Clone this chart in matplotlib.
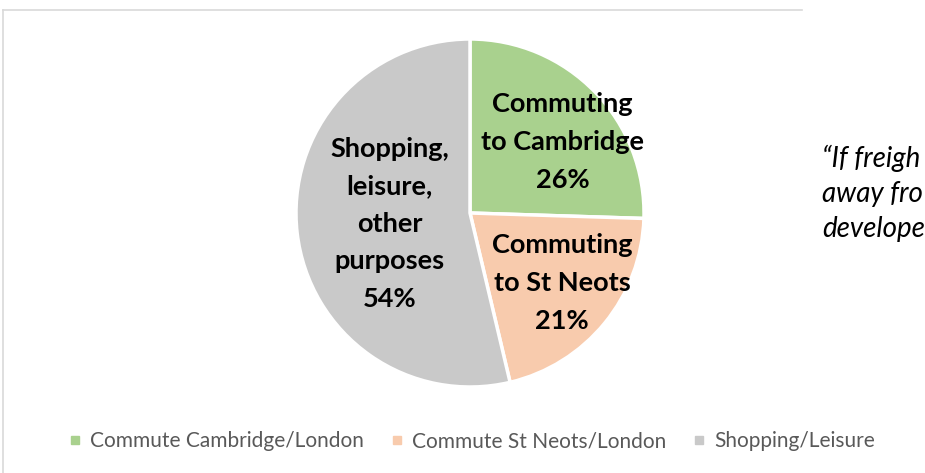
import numpy as np
import matplotlib.pyplot as plt
from matplotlib.lines import Line2D

plt.rcParams['font.family'] = ['Lato', 'DejaVu Sans']

# Data
shares = [25.5, 20.8, 53.7]
slice_labels = ['Commuting\nto Cambridge\n26%', 'Commuting\nto St Neots\n21%',
                'Shopping,\nleisure,\nother\npurposes\n54%']
legend_names = ['Commute Cambridge/London', 'Commute St Neots/London', 'Shopping/Leisure']
colors = ['#A9D18E', '#F8CBAD', '#C9C9C9']
label_radius = [0.67, 0.665, 0.465]
label_turn = [-6.6, 2.0, 1.0]   # degrees, nudges off the bisector
side_text = ['\u201cIf freigh', 'away fro', 'develope']

W, H = 925, 473
fig = plt.figure(figsize=(W / 100, H / 100), dpi=100)

# pie centre (470, 213) px, radius 174 px
cx, cy, r = 470, 213, 174
ax = fig.add_axes([(cx - r) / W, 1 - (cy + r) / H, 2 * r / W, 2 * r / H])
wedges, _ = ax.pie(shares, colors=colors, startangle=90, counterclock=False,
                   radius=1, wedgeprops=dict(edgecolor='white', linewidth=2.5))
ax.set_xlim(-1, 1)
ax.set_ylim(-1, 1)
ax.axis('off')

for w, lab, lr, turn in zip(wedges, slice_labels, label_radius, label_turn):
    mid = np.deg2rad((w.theta1 + w.theta2) / 2 + turn)
    ax.text(lr * np.cos(mid), lr * np.sin(mid), lab, ha='center', va='center',
            fontsize=19.5, fontweight='bold', color='black', linespacing=1.68)

# legend
handles = [Line2D([], [], marker='s', linestyle='none', markersize=6,
                  markerfacecolor=c, markeredgecolor=c) for c in colors]
fig.legend(handles, legend_names, loc='center', bbox_to_anchor=(0.51, 1 - 441 / H),
           ncol=3, frameon=False, fontsize=15, labelcolor='#595959',
           handlelength=0.6, handletextpad=0.4, columnspacing=1.3)

# text from the slide on the right, cut at the edge
for i, s in enumerate(side_text):
    fig.text(822 / W, 1 - (158 + 35.5 * i) / H, s, ha='left', va='center',
             fontsize=20, style='italic', color='black')

# chart border (top and left edges visible)
fig.add_artist(Line2D([3 / W, 802 / W], [1 - 10 / H, 1 - 10 / H],
                      transform=fig.transFigure, color='#D9D9D9', linewidth=1.2))
fig.add_artist(Line2D([3 / W, 3 / W], [1 - 10 / H, 0],
                      transform=fig.transFigure, color='#D9D9D9', linewidth=1.2))

fig.savefig('out.png', dpi=100)
